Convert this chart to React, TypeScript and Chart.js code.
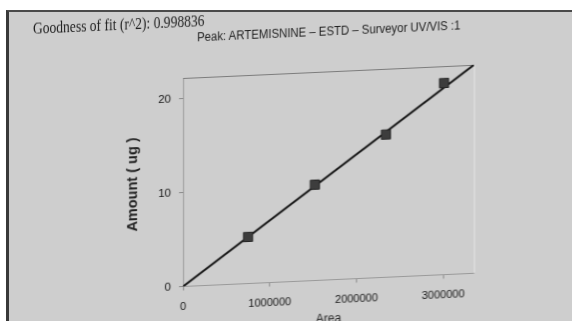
import React, { useEffect, useRef } from "react";
import { Chart, registerables } from "chart.js";

Chart.register(...registerables);

// ---- data ----
const areaValues = [750000, 1520000, 2340000, 3010000];
const amountValues = [4.96, 10.2, 15.2, 20.4];
const fitArea = [0, 3356000];
const fitAmount = [0, 22.2];
const xTickValues = [0, 1000000, 2000000, 3000000];
const yTickValues = [0, 10, 20];
const fitTitle = "Goodness of fit (r^2): 0.998836";
const peakTitle = "Peak: ARTEMISNINE \u2013 ESTD \u2013 Surveyor UV/VIS :1";
const yTitle = "Amount ( ug )";
const xTitle = "Area";

const SANS = "'Liberation Sans', Arial, sans-serif";

const boxEdges = {
  id: "boxEdges",
  beforeDatasetsDraw(chart: any) {
    const { ctx, chartArea } = chart;
    const { left, right, top, bottom } = chartArea;
    ctx.save();
    ctx.lineWidth = 1;
    ctx.strokeStyle = "#7c7c7c";
    ctx.beginPath();
    ctx.moveTo(left, top + 0.5);
    ctx.lineTo(right, top + 0.5);
    ctx.stroke();
    ctx.strokeStyle = "#e4e4e4";
    ctx.beginPath();
    ctx.moveTo(right + 0.5, top);
    ctx.lineTo(right + 0.5, bottom);
    ctx.stroke();
    ctx.restore();
  },
};

export default function App() {
  const canvasRef = useRef<HTMLCanvasElement | null>(null);

  useEffect(() => {
    const canvas = canvasRef.current;
    if (!canvas) return;
    const points = areaValues.map((a, i) => ({ x: a, y: amountValues[i] }));
    const fit = fitArea.map((a, i) => ({ x: a, y: fitAmount[i] }));
    const chart = new Chart(canvas, {
      type: "scatter",
      data: {
        datasets: [
          {
            label: "fit",
            data: fit,
            showLine: true,
            borderColor: "#141414",
            borderWidth: 2,
            pointRadius: 0,
            order: 2,
          },
          {
            label: "standards",
            data: points,
            showLine: false,
            pointStyle: "rect",
            pointRadius: 6.5,
            backgroundColor: "#3d3d3d",
            borderColor: "#262626",
            borderWidth: 1,
            order: 1,
          },
        ],
      },
      options: {
        animation: false,
        responsive: false,
        maintainAspectRatio: false,
        layout: { padding: { left: 120, top: 78, right: 98, bottom: 0 } },
        plugins: {
          legend: { display: false },
          tooltip: { enabled: false },
          title: { display: false },
        },
        scales: {
          x: {
            type: "linear",
            min: fitArea[0],
            max: fitArea[1],
            afterFit: (s: any) => {
              s.height = 48.5;
            },
            afterBuildTicks: (s: any) => {
              s.ticks = xTickValues.map((v) => ({ value: v }));
            },
            grid: {
              display: true,
              drawOnChartArea: false,
              color: "transparent",
              tickColor: "#8a8a8a",
              tickLength: 4,
            },
            border: { display: true, color: "#9a9a9a", width: 1, dash: [5, 3] },
            ticks: {
              includeBounds: false,
              autoSkip: false,
              maxRotation: 0,
              padding: 10,
              color: "#161616",
              font: { family: SANS, size: 11 },
              callback: (v: any) => String(v),
            },
            title: {
              display: true,
              text: xTitle,
              color: "#262626",
              font: { family: SANS, size: 12 },
              padding: { top: 0, bottom: 2 },
            },
          },
          y: {
            type: "linear",
            min: fitAmount[0],
            max: fitAmount[1],
            afterFit: (s: any) => {
              s.width = 63;
            },
            afterBuildTicks: (s: any) => {
              s.ticks = yTickValues.map((v) => ({ value: v }));
            },
            grid: {
              display: true,
              drawOnChartArea: false,
              color: "transparent",
              tickColor: "#8a8a8a",
              tickLength: 4,
            },
            border: { display: true, color: "#9a9a9a", width: 1, dash: [5, 3] },
            ticks: {
              includeBounds: false,
              autoSkip: false,
              padding: 8,
              color: "#161616",
              font: { family: SANS, size: 11.5 },
              callback: (v: any) => String(v),
            },
            title: {
              display: true,
              text: yTitle,
              color: "#222",
              font: { family: SANS, size: 14.5, weight: "bold" },
              padding: { top: 4, bottom: 4 },
            },
          },
        },
      },
      plugins: [boxEdges],
    } as any);
    return () => chart.destroy();
  }, []);

  return (
    <div
      style={{
        position: "fixed",
        left: 0,
        top: 0,
        width: 572,
        height: 321,
        overflow: "hidden",
        background: "#ffffff",
      }}
    >
      <div
        style={{
          position: "absolute",
          left: 6,
          top: 10,
          width: 600,
          height: 340,
          background: "#cecece",
          borderTop: "2px solid #4a4a4a",
          borderLeft: "3px solid #383838",
        }}
      />
      <div
        style={{
          position: "absolute",
          left: 0,
          top: 0,
          width: 572,
          height: 335,
          transform: "skewY(-2.6deg)",
          transformOrigin: "183px 286.5px",
        }}
      >
        <canvas
          ref={canvasRef}
          width={572}
          height={335}
          style={{ position: "absolute", left: 0, top: 0, width: 572, height: 335 }}
        />
        <div
          style={{
            position: "absolute",
            left: 33,
            top: 12,
            whiteSpace: "nowrap",
            fontFamily: "'Liberation Serif', 'Times New Roman', serif",
            fontSize: 16.5,
            color: "#1e1e1e",
            lineHeight: "19px",
            transform: "scaleX(0.82)",
            transformOrigin: "0 0",
          }}
        >
          {fitTitle}
        </div>
        <div
          style={{
            position: "absolute",
            left: 197,
            top: 30,
            transform: "scaleX(0.91)",
            transformOrigin: "0 0",
            whiteSpace: "nowrap",
            fontFamily: SANS,
            fontSize: 12.5,
            color: "#1e1e1e",
            lineHeight: "16px",
          }}
        >
          {peakTitle}
        </div>
      </div>
    </div>
  );
}
